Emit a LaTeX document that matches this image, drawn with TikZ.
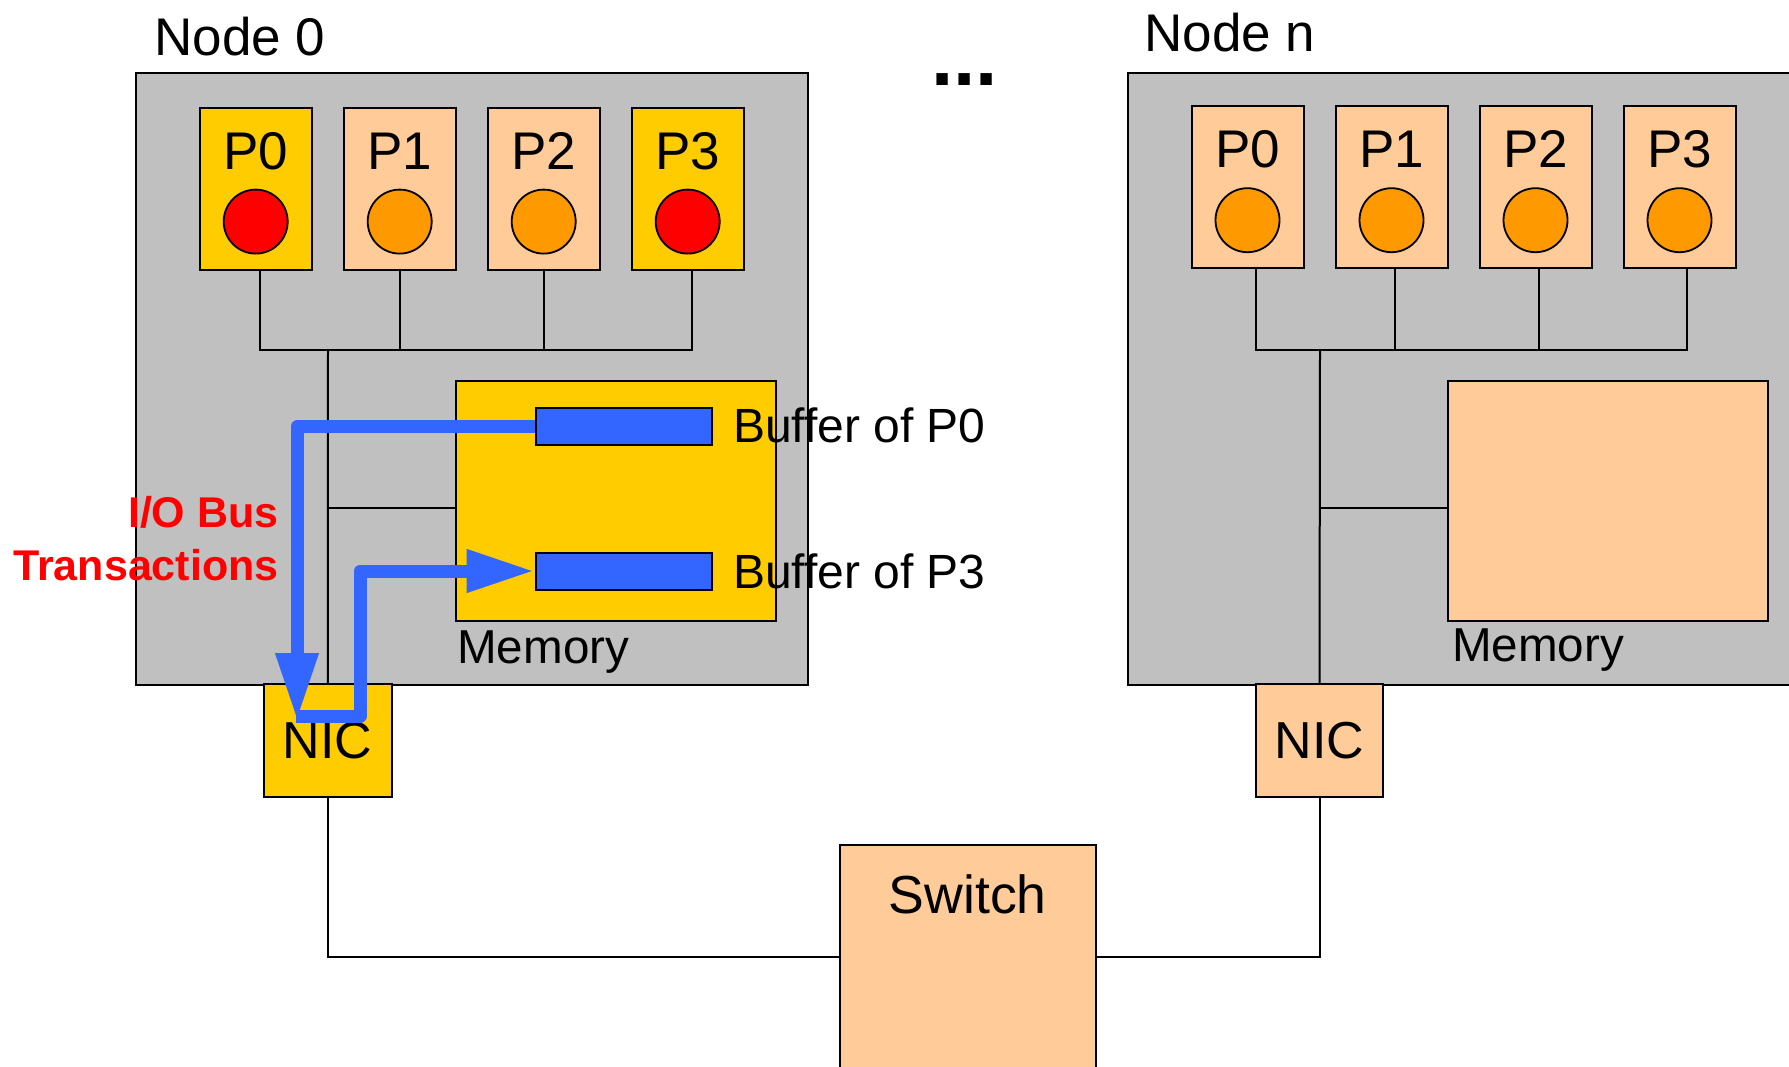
\documentclass[tikz,border=0pt]{standalone}
\usepackage{fontspec}
\setmainfont{Liberation Sans}
\usetikzlibrary{arrows.meta,positioning}
\definecolor{mygray}{RGB}{192,192,192}
\definecolor{myyellow}{RGB}{255,204,0}
\definecolor{mypeach}{RGB}{255,204,153}
\definecolor{myred}{RGB}{255,0,0}
\definecolor{myorange}{RGB}{255,153,0}
\definecolor{myblue}{RGB}{51,102,255}

\begin{document}
\begin{tikzpicture}[x=0.5pt, y=-0.5pt, node distance=15pt,
  every node/.style={inner sep=0pt},
  hostbox/.style={draw, fill=mygray, line width=1pt, minimum width=336.25pt, minimum height=305.75pt},
  cpu/.style={draw, line width=1pt, minimum width=56pt, minimum height=81pt},
  cpuname/.style={anchor=base, font=\fontsize{26.5}{30}\selectfont},
  core/.style={draw, circle, line width=0.9pt, minimum size=32pt},
  membox/.style={draw, line width=1pt, minimum width=160pt, minimum height=120pt},
  memname/.style={anchor=base west, font=\fontsize{23.8}{28}\selectfont},
  buf/.style={draw, fill=myblue, line width=1pt, minimum width=88pt, minimum height=18.5pt},
  bufname/.style={anchor=base west, font=\fontsize{24}{28}\selectfont},
  nicbox/.style={draw, line width=1pt, minimum width=63.75pt, minimum height=56.35pt,
                 font=\fontsize{26}{30}\selectfont},
  hostname/.style={anchor=base west, font=\fontsize{26.5}{30}\selectfont},
  wire/.style={line width=1pt},
  ioflow/.style={draw=myblue, line width=6.5pt, line join=round,
                 -{Triangle[length=34pt,width=20pt]}}]
  \useasboundingbox (0,0) rectangle (1789,1066);
  \clip (0,0) rectangle (1789,1066);

  % node 0
  \node[hostbox] (host0) at (471.75,378.75) {};
  \node[hostname] (name0) at (154,55) {Node 0};
  \node[cpu, fill=myyellow] (p00) at (255.7,188.5) {};
  \node[cpu, fill=mypeach, right=of p00] (p01) {};
  \node[cpu, fill=mypeach, right=of p01] (p02) {};
  \node[cpu, fill=myyellow, right=of p02] (p03) {};
  \node[core, fill=myred, above=8pt of p00.south] (c00) {};
  \node[core, fill=myorange, above=8pt of p01.south] (c01) {};
  \node[core, fill=myorange, above=8pt of p02.south] (c02) {};
  \node[core, fill=myred, above=8pt of p03.south] (c03) {};
  \node[cpuname] at ([yshift=-31.5pt]p00.north) {P0};
  \node[cpuname] at ([yshift=-31.5pt]p01.north) {P1};
  \node[cpuname] at ([yshift=-31.5pt]p02.north) {P2};
  \node[cpuname] at ([yshift=-31.5pt]p03.north) {P3};
  \node[membox, fill=myyellow] (mem0) at (615.9,500.7) {};
  \node[memname] (memname0) at ([xshift=1pt,yshift=-21pt]mem0.south west) {Memory};
  \node[buf] (buf0) at (623.7,426.7) {};
  \node[buf] (buf3) at (623.7,571) {};
  \node[bufname] (bufname0) at ([xshift=10pt,yshift=-8pt]buf0.east) {Buffer of P0};
  \node[bufname] (bufname3) at ([xshift=10pt,yshift=-8.5pt]buf3.east) {Buffer of P3};
  \node[nicbox, fill=myyellow] (nic0) at (327.75,740.35) {NIC};

  \coordinate (bus0) at (328,350);
  \draw[wire] ([xshift=2pt]p00.south) |- (bus0) -| ([xshift=2.3pt]p03.south);
  \draw[wire] (p01.south) -- (p01.south |- bus0);
  \draw[wire] (p02.south) -- (p02.south |- bus0);
  \draw[wire] (bus0) -- (nic0.north);
  \draw[wire] ([yshift=-3.5pt]mem0.west) -- ([yshift=-3.5pt]mem0.west -| bus0);

  % node n
  \node[hostbox] (hostn) at (1463.75,378.75) {};
  \node[hostname] (namen) at (1144,51) {Node n};
  \node[cpu, fill=mypeach] (pn0) at (1247.5,187.1) {};
  \node[cpu, fill=mypeach, right=of pn0] (pn1) {};
  \node[cpu, fill=mypeach, right=of pn1] (pn2) {};
  \node[cpu, fill=mypeach, right=of pn2] (pn3) {};
  \node[core, fill=myorange, above=8pt of pn0.south] (cn0) {};
  \node[core, fill=myorange, above=8pt of pn1.south] (cn1) {};
  \node[core, fill=myorange, above=8pt of pn2.south] (cn2) {};
  \node[core, fill=myorange, above=8pt of pn3.south] (cn3) {};
  \node[cpuname] at ([yshift=-31pt]pn0.north) {P0};
  \node[cpuname] at ([yshift=-31pt]pn1.north) {P1};
  \node[cpuname] at ([yshift=-31pt]pn2.north) {P2};
  \node[cpuname] at ([yshift=-31pt]pn3.north) {P3};
  \node[membox, fill=mypeach] (memn) at (1607.75,500.65) {};
  \node[memname] (memnamen) at ([xshift=2.5pt,yshift=-20pt]memn.south west) {Memory};
  \node[nicbox, fill=mypeach] (nicn) at (1319.5,740.7) {NIC};

  \coordinate (busn) at (1320,350);
  \draw[wire] ([xshift=4pt]pn0.south) |- (busn) -| ([xshift=3.8pt]pn3.south);
  \draw[wire] ([xshift=1.8pt]pn1.south) -- ([xshift=1.8pt]pn1.south |- busn);
  \draw[wire] ([xshift=1.7pt]pn2.south) -- ([xshift=1.7pt]pn2.south |- busn);
  \draw[wire] (busn) -- (nicn.north);
  \draw[wire] ([yshift=-3.5pt]memn.west) -- ([yshift=-3.5pt]memn.west -| busn);

  \node[font=\fontsize{40}{40}\selectfont\bfseries] (dots) at (964.5,79.3) {...};

  % switch
  \node[draw, fill=mypeach, line width=1pt, minimum width=127.8pt, minimum height=128pt,
        anchor=north] (switch) at (967.8,844) {};
  \node[anchor=base, font=\fontsize{26.8}{30}\selectfont] (swname) at ([yshift=-34.5pt]switch.north) {Switch};
  \draw[wire] (nic0.south) |- ([yshift=8pt]switch.west);
  \draw[wire] (nicn.south) |- ([yshift=8pt]switch.east);

  % I/O bus transactions
  \coordinate (tip0) at (297,721);
  \draw[ioflow] (buf0.west) -| (tip0);
  \coordinate (turn0) at (296,716);
  \draw[ioflow] (turn0) -- ++(64,0) |- (buf3.west);
  \node[align=right, anchor=north east, text=myred,
        font=\fontsize{21.5}{26.25}\selectfont\bfseries] (iolabel) at (279,496) {I/O Bus\\Transactions};
\end{tikzpicture}
\end{document}
